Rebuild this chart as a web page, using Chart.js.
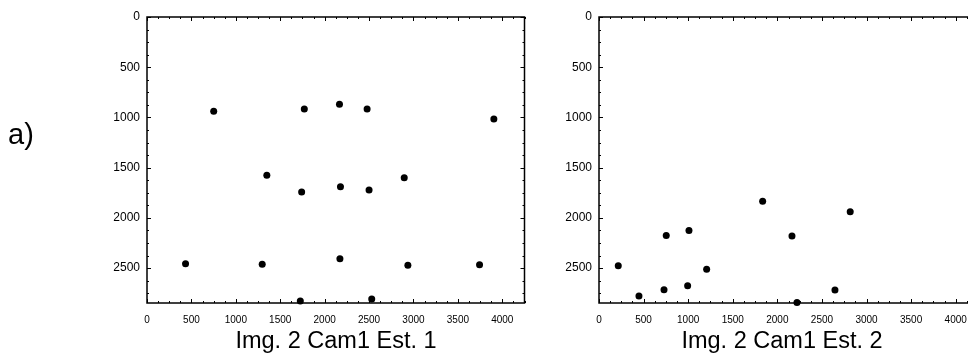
<!DOCTYPE html>
<html><head><meta charset="utf-8">
<script src="https://cdn.jsdelivr.net/npm/chart.js@4/dist/chart.umd.min.js"></script>
<style>
html,body{margin:0;padding:0;background:#fff;}
body{width:968px;height:354px;overflow:hidden;position:relative;font-family:"Liberation Sans",Arial,Helvetica,sans-serif;}
canvas{position:absolute;top:0;}
#c1{left:0;}
#c2{left:540px;}
.title{position:absolute;white-space:nowrap;color:#000;font-size:23.5px;line-height:24px;transform:translateX(-50%);}
#lab{position:absolute;left:8px;top:120px;font-size:29px;line-height:29px;color:#000;}
</style></head><body>
<canvas id="c1" width="540" height="354"></canvas>
<canvas id="c2" width="453" height="354"></canvas>
<div id="lab">a)</div>
<div class="title" id="t1" style="left:336px;top:328px;">Img. 2 Cam1 Est. 1</div>
<div class="title" id="t2" style="left:782px;top:328px;">Img. 2 Cam1 Est. 2</div>
<script>
// ---- data ----
const est1X = [751, 1771, 2167, 2478, 3905, 1349, 1741, 2178, 2500, 2896, 434, 1297, 2172, 2937, 3744, 1726, 2530];
const est1Y = [939, 916, 870, 916, 1016, 1577, 1743, 1690, 1723, 1601, 2457, 2463, 2407, 2473, 2467, 2829, 2809];
const est2X = [1835, 2817, 754, 1009, 2164, 216, 1207, 448, 729, 994, 2646, 2220];
const est2Y = [1836, 1939, 2175, 2125, 2181, 2477, 2513, 2779, 2716, 2676, 2719, 2842];
const xTicks = [0, 500, 1000, 1500, 2000, 2500, 3000, 3500, 4000];
const yTicks = [0, 500, 1000, 1500, 2000, 2500];
const X_MAX = 4250;
const Y_MAX = 2848;
const MINOR_STEP = 125;

const framePlugin = {
  id: 'frame',
  beforeDatasetsDraw(chart) {
    const {ctx, chartArea: a, scales: {x, y}} = chart;
    ctx.save();
    ctx.strokeStyle = '#000';
    ctx.lineWidth = 1;
    ctx.beginPath();
    for (let v = 0; v <= X_MAX; v += MINOR_STEP) {
      const p = Math.round(x.getPixelForValue(v)) + 0.5;
      const L = (v % 500 === 0) ? 4 : 2;
      ctx.moveTo(p, a.top); ctx.lineTo(p, a.top + L);
      ctx.moveTo(p, a.bottom); ctx.lineTo(p, a.bottom - L);
    }
    for (let v = 0; v <= Y_MAX; v += MINOR_STEP) {
      const p = Math.round(y.getPixelForValue(v)) + 0.5;
      const L = (v % 500 === 0) ? 4 : 2;
      ctx.moveTo(a.left, p); ctx.lineTo(a.left + L, p);
      ctx.moveTo(a.right, p); ctx.lineTo(a.right - L, p);
    }
    ctx.stroke();
    ctx.lineWidth = 1.5;
    ctx.strokeRect(a.left, a.top, a.right - a.left, a.bottom - a.top);
    ctx.restore();
  }
};

const xFont = { family: '"Liberation Sans", Arial, sans-serif', size: 10 };
const yFont = { family: '"Liberation Sans", Arial, sans-serif', size: 12 };
const plain = v => String(v);

function makeChart(id, xs, ys, yAxisWidth, padRight) {
  const pts = xs.map((v, i) => ({x: v, y: ys[i]}));
  return new Chart(document.getElementById(id), {
    type: 'scatter',
    data: { datasets: [{ data: pts, backgroundColor: '#000', borderColor: '#000', borderWidth: 0, pointRadius: 3.5, pointHoverRadius: 3.5, clip: false }] },
    options: {
      responsive: false,
      animation: false,
      events: [],
      layout: { padding: { left: 0, right: padRight, top: 17, bottom: 0 } },
      plugins: { legend: { display: false }, tooltip: { enabled: false } },
      scales: {
        x: {
          type: 'linear', position: 'bottom', min: 0, max: X_MAX,
          grid: { display: false, drawTicks: false }, border: { display: false },
          afterBuildTicks: s => { s.ticks = xTicks.map(v => ({value: v})); },
          afterFit: s => { s.height = 51; },
          ticks: { color: '#000', font: xFont, padding: 11, maxRotation: 0, autoSkip: false, callback: plain }
        },
        y: {
          type: 'linear', position: 'left', min: 0, max: Y_MAX, reverse: true,
          grid: { display: false, drawTicks: false }, border: { display: false },
          afterBuildTicks: s => { s.ticks = yTicks.map(v => ({value: v})); },
          afterFit: s => { s.width = yAxisWidth; },
          ticks: { color: '#000', font: yFont, padding: 7, autoSkip: false, callback: plain }
        }
      }
    },
    plugins: [framePlugin]
  });
}

makeChart('c1', est1X, est1Y, 147, 15.5);
makeChart('c2', est2X, est2Y, 59, 15);
</script>
</body></html>
